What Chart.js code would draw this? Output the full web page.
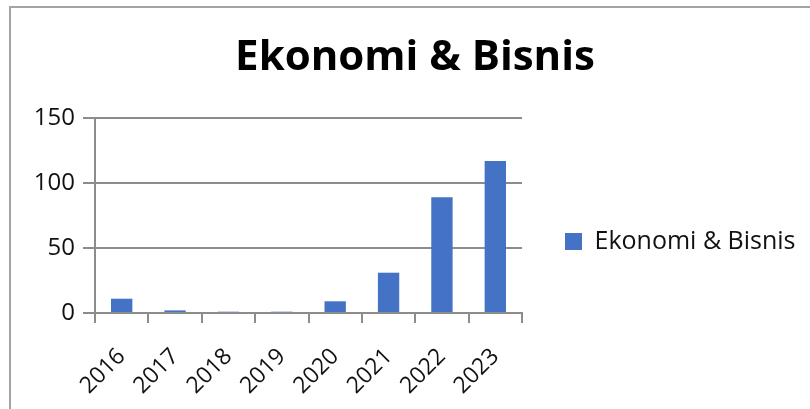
<!DOCTYPE html>
<html>
<head>
<meta charset="utf-8">
<script src="https://cdn.jsdelivr.net/npm/chart.js@4/dist/chart.umd.min.js"></script>
<style>
    html, body { margin: 0; padding: 0; background: #fff; }
    .wrap { position: relative; width: 810px; height: 409px; }
    .frame {
        position: absolute; left: 9px; top: 6px; right: 0; bottom: 0;
        border-top: 2px solid #a3a3a3; border-left: 2px solid #a3a3a3;
        pointer-events: none;
    }
</style>
</head>
<body>
<div class="wrap">
    <canvas id="chart" width="810" height="409"></canvas>
    <div class="frame"></div>
</div>
<script>
    "use strict";

    const years = ["2016", "2017", "2018", "2019", "2020", "2021", "2022", "2023"];
    const counts = [11, 2, 1, 1, 9, 31, 89, 117];
    const yTicks = [0, 50, 100, 150];

    const FONT = "'Open Sans', 'DejaVu Sans', sans-serif";
    const GRID = "#8c8c8c";
    const LEGEND_W = 288;

    // fixed legend width + legend sits lower than the plot centre in the original
    const legendTweak = {
        id: "legendTweak",
        afterInit(chart) {
            const l = chart.legend;
            if (!l) { return; }
            const fit = l.fit.bind(l);
            l.fit = function () { fit(); this.width = LEGEND_W; };
        },
        afterLayout(chart) {
            const l = chart.legend;
            if (l) { l.top += 37; l.bottom += 37; }
        },
    };

    new Chart(document.getElementById("chart"), {
        type: "bar",
        data: {
            labels: years,
            datasets: [{
                label: "Ekonomi & Bisnis",
                data: counts,
                backgroundColor: "#4472c4",
                barPercentage: 0.4,
                categoryPercentage: 1,
            }],
        },
        plugins: [legendTweak],
        options: {
            responsive: false,
            animation: false,
            layout: { padding: { left: 20, right: 0, top: 0, bottom: 0 } },
            plugins: {
                title: {
                    display: true,
                    text: "Ekonomi & Bisnis",
                    color: "#000",
                    font: { family: FONT, size: 42, weight: "bold" },
                    padding: { top: 33, bottom: 34.6 },
                },
                legend: {
                    position: "right",
                    labels: {
                        boxWidth: 17, boxHeight: 17, padding: 43,
                        color: "#111",
                        font: { family: FONT, size: 25 },
                    },
                },
                tooltip: { enabled: false },
            },
            scales: {
                x: {
                    grid: { drawOnChartArea: false, color: GRID, lineWidth: 2, tickLength: 10 },
                    border: { color: GRID, width: 2 },
                    ticks: {
                        color: "#111", maxRotation: 45, minRotation: 45, padding: 20,
                        font: { family: FONT, size: 23 },
                    },
                    afterFit(axis) { axis.height = 96; },
                },
                y: {
                    min: 0, max: 150,
                    afterBuildTicks(axis) { axis.ticks = yTicks.map(v => ({ value: v })); },
                    grid: { color: GRID, lineWidth: 2, tickLength: 12 },
                    border: { color: GRID, width: 2 },
                    ticks: { color: "#111", padding: 8, font: { family: FONT, size: 24 } },
                    afterFit(axis) { axis.width = 75; },
                },
            },
        },
    });
</script>
</body>
</html>
